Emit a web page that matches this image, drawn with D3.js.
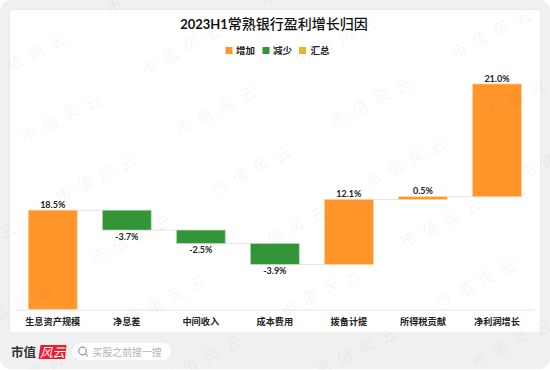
<!DOCTYPE html>
<html>
<head>
<meta charset="utf-8">
<script src="https://cdn.jsdelivr.net/npm/d3@7/dist/d3.min.js"></script>
<style>
  html, body { margin: 0; background: #fff; }
  svg { display: block; }
  text { font-family: Lato, "Noto Sans CJK SC", sans-serif; }
</style>
</head>
<body>
<div id="chart"></div>
<script>
// values
var categories = ["生息资产规模", "净息差", "中间收入", "成本费用", "拨备计提", "所得税贡献", "净利润增长"];
var changes = [18.5, -3.7, -2.5, -3.9, 12.1, 0.5, 21.0];
var legendNames = ["增加", "减少", "汇总"];
var legendColors = ["#ff952b", "#339438", "#e8b52c"];

var width = 550, height = 370;
var margin = {top: 84, right: 16, bottom: 60.5, left: 15.7};

var svg = d3.select("#chart")
  .append("svg")
    .attr("width", width)
    .attr("height", height);

// grey card behind the white panel
svg.append("rect")
    .attr("width", width).attr("height", 369)
    .attr("rx", 11)
    .attr("fill", "#f0f0f0");
svg.append("rect")
    .attr("x", 9.5).attr("y", 9.5)
    .attr("width", 531).attr("height", 323.5)
    .attr("rx", 2)
    .attr("fill", "#fff")
    .attr("stroke", "#e9e9e9");

var title = svg.append("text")
    .attr("x", 274).attr("y", 29)
    .attr("text-anchor", "middle")
    .style("font-size", "14px")
    .attr("fill", "#111");
title.append("tspan")
    .style("font-weight", "700")
    .style("font-size", "13px")
    .text("2023H1");
title.append("tspan")
    .style("font-weight", "500")
    .text("常熟银行盈利增长归因");

// legend
var legendX = [225.5, 262.5, 299];
var legendText = [236, 273, 310.5];
legendNames.forEach(function(name, i) {
  svg.append("rect")
      .attr("x", legendX[i]).attr("y", 47)
      .attr("width", 7).attr("height", 7)
      .attr("fill", legendColors[i]);
  svg.append("text")
      .attr("x", legendText[i]).attr("y", 54)
      .style("font-size", "9.5px")
      .style("font-weight", "700")
      .attr("fill", "#222")
      .text(name);
});

var x = d3.scaleBand()
    .domain(categories)
    .range([margin.left, width - margin.right])
    .paddingInner(0.34)
    .paddingOuter(0.17);

var y = d3.scaleLinear()
    .domain([0, 42])
    .range([height - margin.bottom, margin.top]);

// running level of the bridge, each bar goes from the previous level to its own
var levels = d3.cumsum(changes);
var bars = categories.map(function(c, i) {
  return {name: c, value: changes[i], from: i ? levels[i - 1] : 0, to: levels[i]};
});

// connectors between bars
svg.append("g")
  .selectAll("line")
  .data(bars.slice(0, -1))
  .enter().append("line")
    .attr("x1", function(d) { return x(d.name) + x.bandwidth(); })
    .attr("x2", function(d, i) { return x(categories[i + 1]); })
    .attr("y1", function(d) { return y(d.to); })
    .attr("y2", function(d) { return y(d.to); })
    .attr("stroke", "#e3e3e3")
    .attr("stroke-width", 1);

svg.append("g")
  .selectAll("rect")
  .data(bars)
  .enter().append("rect")
    .attr("x", function(d) { return x(d.name); })
    .attr("y", function(d) { return y(Math.max(d.from, d.to)); })
    .attr("width", x.bandwidth())
    .attr("height", function(d) { return Math.abs(y(d.from) - y(d.to)); })
    .attr("fill", function(d) { return d.value < 0 ? legendColors[1] : legendColors[0]; })
    .attr("stroke", function(d) { return d.value < 0 ? "#b9dcbb" : "#ffcf9c"; })
    .attr("stroke-width", 0.7);

svg.append("g")
  .selectAll("text")
  .data(bars)
  .enter().append("text")
    .attr("x", function(d) { return x(d.name) + x.bandwidth() / 2; })
    .attr("y", function(d) { return d.value < 0 ? y(d.to) + 10 : y(d.to) - 2.5; })
    .attr("text-anchor", "middle")
    .style("font-size", "9px")
    .style("font-weight", "700")
    .attr("fill", "#222")
    .text(function(d) { return d.value.toFixed(1) + "%"; });

// category axis
var xAxis = svg.append("g")
    .attr("transform", "translate(0," + y(0) + ")")
    .call(d3.axisBottom(x).tickSize(0).tickPadding(8.5).tickSizeOuter(0));
xAxis.select(".domain")
    .attr("stroke", "#e6e6e6")
    .attr("stroke-width", 1.2);
xAxis.selectAll("text")
    .style("font-family", "Lato, 'Noto Sans CJK SC', sans-serif")
    .style("font-size", "9.2px")
    .style("font-weight", "700")
    .attr("fill", "#222");

// footer logo and search box
svg.append("text")
    .attr("x", 11).attr("y", 356.5)
    .style("font-size", "12.5px")
    .style("font-weight", "700")
    .attr("fill", "#333")
    .text("市值");
svg.append("path")
    .attr("d", "M40.5 345H66.5L65 359H38.5Z")
    .attr("fill", "#ee1c2e");
svg.append("text")
    .attr("x", 52.5).attr("y", 356.5)
    .attr("text-anchor", "middle")
    .style("font-size", "12.5px")
    .style("font-style", "italic")
    .attr("fill", "#fff")
    .text("风云");
svg.append("rect")
    .attr("x", 72).attr("y", 343)
    .attr("width", 99).attr("height", 17)
    .attr("rx", 8.5)
    .attr("fill", "#fff");
svg.append("circle")
    .attr("cx", 82.5).attr("cy", 351)
    .attr("r", 3.8)
    .attr("fill", "none")
    .attr("stroke", "#999")
    .attr("stroke-width", 1.2);
svg.append("line")
    .attr("x1", 85.3).attr("y1", 353.8)
    .attr("x2", 87.8).attr("y2", 356.3)
    .attr("stroke", "#999")
    .attr("stroke-width", 1.2);
svg.append("text")
    .attr("x", 92.5).attr("y", 355.5)
    .style("font-size", "9.9px")
    .attr("fill", "#b2b2b2")
    .text("买股之前搜一搜");

// repeated watermark on top of everything, only the ones that touch the page
var marks = [];
d3.range(-3, 6).forEach(function(i) {
  d3.range(-1, 7).forEach(function(j) {
    var mx = 26 + i * 155 + j * 35, my = 58 - i * 8 + j * 60.5;
    if (mx > -36 && mx < 586 && my > -20 && my < 390) marks.push([mx, my]);
  });
});
svg.append("g")
  .selectAll("text")
  .data(marks)
  .enter().append("text")
    .attr("transform", function(d) { return "translate(" + d[0] + "," + d[1] + ") rotate(-27)"; })
    .attr("text-anchor", "middle")
    .attr("dy", "0.35em")
    .style("font-family", "'Noto Sans CJK SC', sans-serif")
    .style("font-size", "16px")
    .style("font-weight", "400")
    .style("letter-spacing", "8px")
    .attr("dx", 4)
    .attr("fill", "#000")
    .attr("fill-opacity", 0.055)
    .text("市值风云");
</script>
</body>
</html>
